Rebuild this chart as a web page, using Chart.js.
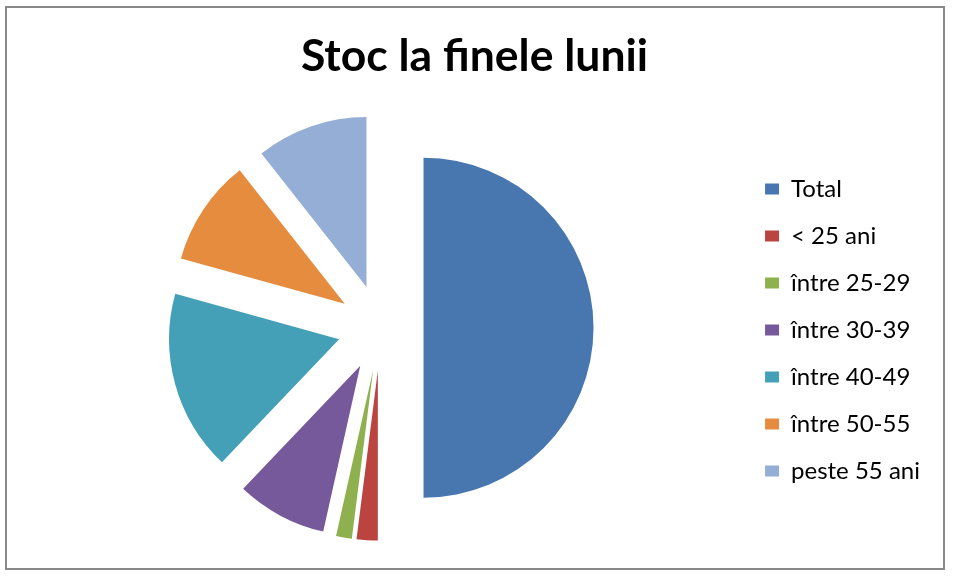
<!DOCTYPE html>
<html>
<head>
<meta charset="utf-8">
<script src="https://cdn.jsdelivr.net/npm/chart.js@4/dist/chart.umd.min.js"></script>
<style>
  body { margin: 0; background: #fff; }
  #wrap { position: relative; width: 965px; height: 586px; }
  #frame { position: absolute; left: 5px; top: 6px; width: 936px; height: 560px; border: 2px solid #898989; pointer-events: none; }
</style>
</head>
<body>
<div id="wrap">
  <canvas id="chart" width="965" height="586"></canvas>
  <div id="frame"></div>
</div>
<script>
// categories and values (Total = sum of the age groups)
const labels = ['Total', '< 25 ani', 'între 25-29', 'între 30-39', 'între 40-49', 'între 50-55', 'peste 55 ani'];
const values = [500, 20, 15, 86, 172, 101, 106];
const colors = ['#4876AF', '#BB4441', '#8FB04E', '#76599A', '#43A0B6', '#E58C3E', '#94AED6'];

// pull every slice out along its middle angle (like Excel's exploded pie)
const explodeDist = 43;
const explode = {
  id: 'explode',
  afterDatasetUpdate(chart, args) {
    args.meta.data.forEach(arc => {
      const mid = (arc.startAngle + arc.endAngle) / 2;
      arc.x += Math.cos(mid) * explodeDist;
      arc.y += Math.sin(mid) * explodeDist;
    });
  }
};

const data = {
  labels: labels,
  datasets: [{
    data: values,
    backgroundColor: colors,
    borderWidth: 0
  }]
};

const config = {
  type: 'pie',
  data: data,
  plugins: [explode],
  options: {
    responsive: false,
    animation: false,
    radius: 170,
    layout: {
      padding: { left: 19, right: 35, top: 30, bottom: 20 }
    },
    plugins: {
      title: {
        display: true,
        text: 'Stoc la finele lunii',
        color: '#000',
        font: { family: 'Lato', size: 44.5, weight: 'bold' },
        padding: { top: 0, bottom: 6 }
      },
      legend: {
        position: 'right',
        // empty legend title only pushes the list down a bit
        title: {
          display: true,
          text: '',
          font: { size: 10, lineHeight: 1 },
          padding: { top: 0, bottom: 54 }
        },
        labels: {
          color: '#000',
          font: { family: 'Lato', size: 24 },
          boxWidth: 14,
          boxHeight: 11,
          padding: 23
        }
      },
      tooltip: { enabled: false }
    }
  }
};

const myChart = new Chart(document.getElementById('chart'), config);
</script>
</body>
</html>
